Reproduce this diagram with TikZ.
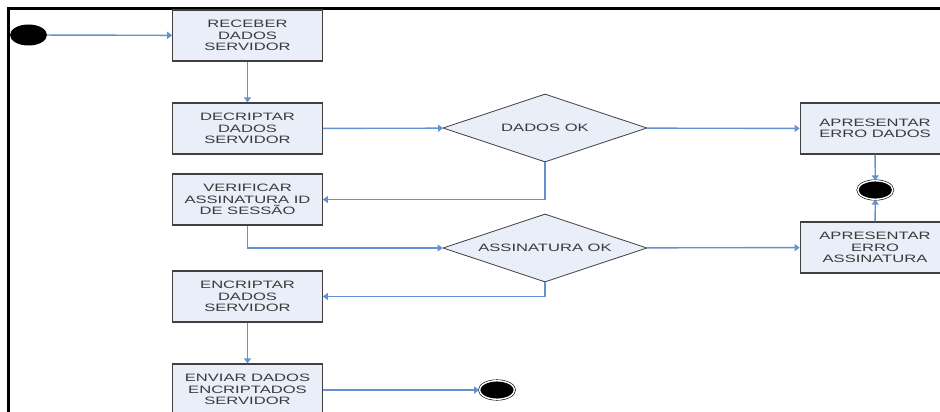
\documentclass[tikz,border=0pt]{standalone}
\usepackage{fontspec}
\usepackage{xcolor}
\newfontfamily\diagfont[FakeStretch=1.55]{Liberation Sans}
\usetikzlibrary{shapes,arrows.meta,positioning,calc}

\definecolor{boxfill}{HTML}{E9EEF8}
\definecolor{flowblue}{HTML}{6391D2}
\definecolor{txtgray}{HTML}{3A3A3A}

\begin{document}
\begin{tikzpicture}[x=1pt, y=-1pt,
    stepbox/.style={draw=black!75, fill=boxfill, line width=1.2pt, minimum width=149.5pt,
        minimum height=51pt, inner sep=0pt, align=center, text=txtgray,
        font=\diagfont\fontsize{10.7}{11.5}\selectfont},
    choice/.style={diamond, draw=black!75, fill=boxfill, line width=0.8pt, aspect=3,
        minimum width=204pt, minimum height=68pt, inner sep=0pt, text=txtgray,
        font=\diagfont\fontsize{10.7}{11.5}\selectfont},
    startdot/.style={ellipse, fill=black, minimum width=37pt, minimum height=21pt, inner sep=0pt},
    enddot/.style={ellipse, draw=black, fill=black, line width=0.6pt, double=white,
        double distance=1.4pt, minimum width=35pt, minimum height=18.5pt, inner sep=0pt},
    flow/.style={draw=flowblue, line width=1.4pt, -{Triangle[length=5pt,width=7pt]}}]

    \useasboundingbox (0,0) rectangle (940,412);

    % Frame
    \draw[line width=2.5pt] (8.5,412) -- (8.5,8.7) -- (940,8.7);

    % Main column
    \node[startdot] (inicio) at (28.5,35) {};
    \node[stepbox] (receber) at (247.5,35.5) {RECEBER\\DADOS\\SERVIDOR};
    \node[stepbox] (decriptar) at (247.5,128.5) {DECRIPTAR\\DADOS\\SERVIDOR};
    \node[stepbox] (verificar) at (247.5,199.5) {VERIFICAR\\ASSINATURA ID\\DE SESSÃO};
    \node[stepbox] (encriptar) at (247.5,296.5) {ENCRIPTAR\\DADOS\\SERVIDOR};
    \node[stepbox] (enviar) at (247.5,389.5) {ENVIAR DADOS\\ENCRIPTADOS\\SERVIDOR};
    \node[enddot] (fimok) at (497,390) {};

    % Decisions
    \node[choice] (dadosok) at (545,128) {DADOS OK};
    \node[choice] (assok) at (545,248) {ASSINATURA OK};

    % Error branch
    \node[stepbox] (errodados) at (875,128.5) {APRESENTAR\\ERRO DADOS};
    \node[stepbox] (erroass) at (875,247.5) {APRESENTAR\\ERRO\\ASSINATURA};
    \node[enddot] (fimerro) at (875.3,190) {};

    % Transitions
    \draw[flow] (inicio) -- (receber);
    \draw[flow] (receber) -- (decriptar);
    \draw[flow] (decriptar) -- (dadosok);
    \draw[flow] (dadosok) -- (errodados);
    \draw[flow] (dadosok.south) |- (verificar.east);
    \draw[flow] (verificar.south) |- (assok.west);
    \draw[flow] (assok) -- (erroass);
    \draw[flow] (assok.south) |- (encriptar.east);
    \draw[flow] (encriptar) -- (enviar);
    \draw[flow] (enviar.east |- fimok) -- (fimok);
    \draw[flow] (errodados) -- (fimerro);
    \draw[flow] (erroass) -- (fimerro);

\end{tikzpicture}
\end{document}
